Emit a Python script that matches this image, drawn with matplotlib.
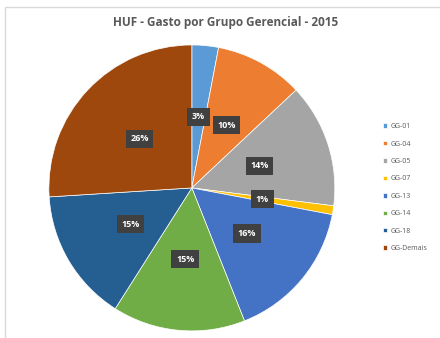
import matplotlib
matplotlib.use("Agg")
import matplotlib.pyplot as plt
from matplotlib.patches import Rectangle

# Dados do gráfico
grupos = ["GG-01", "GG-04", "GG-05", "GG-07", "GG-13", "GG-14", "GG-18", "GG-Demais"]
percentuais = [3, 10, 14, 1, 16, 15, 15, 26]
cores = ["#5B9BD5", "#ED7D31", "#A5A5A5", "#FFC000", "#4472C4", "#70AD47", "#255E91", "#9E480E"]

plt.rcParams["font.family"] = "Open Sans"

fig = plt.figure(figsize=(4.4, 3.38), dpi=100)
fig.patch.set_facecolor("white")

# borda do gráfico
fig.patches.append(Rectangle((0.012, -0.01), 1.0, 0.99, transform=fig.transFigure,
                             fill=False, edgecolor="#d9d9d9", linewidth=1.0))

ax = fig.add_axes([0.111, 0.021, 0.65, 0.846])
wedges, texts = ax.pie(percentuais, colors=cores, startangle=90, counterclock=False,
                       labels=[f"{p}%" for p in percentuais], labeldistance=0.5,
                       wedgeprops=dict(edgecolor="white", linewidth=0.5))
for t in texts:
    t.set_color("white")
    t.set_fontsize(6.5)
    t.set_fontweight("bold")
    t.set_ha("center")
    t.set_va("center")
    t.set_bbox(dict(boxstyle="square,pad=0.5", facecolor="#404040", edgecolor="none"))
ax.set_xlim(-1, 1)
ax.set_ylim(-1, 1)
ax.set_aspect("equal")

fig.text(0.513, 0.932, "HUF - Gasto por Grupo Gerencial - 2015", ha="center", va="center",
         fontsize=8.5, fontweight="bold", color="#595959")

leg = fig.legend(wedges, grupos, loc="center left", bbox_to_anchor=(0.857, 0.445),
                 frameon=False, fontsize=5, handlelength=0.6, handleheight=0.6,
                 labelspacing=1.5, handletextpad=0.5)
for txt in leg.get_texts():
    txt.set_color("#595959")

fig.savefig("out.png", dpi=100, facecolor="white")
